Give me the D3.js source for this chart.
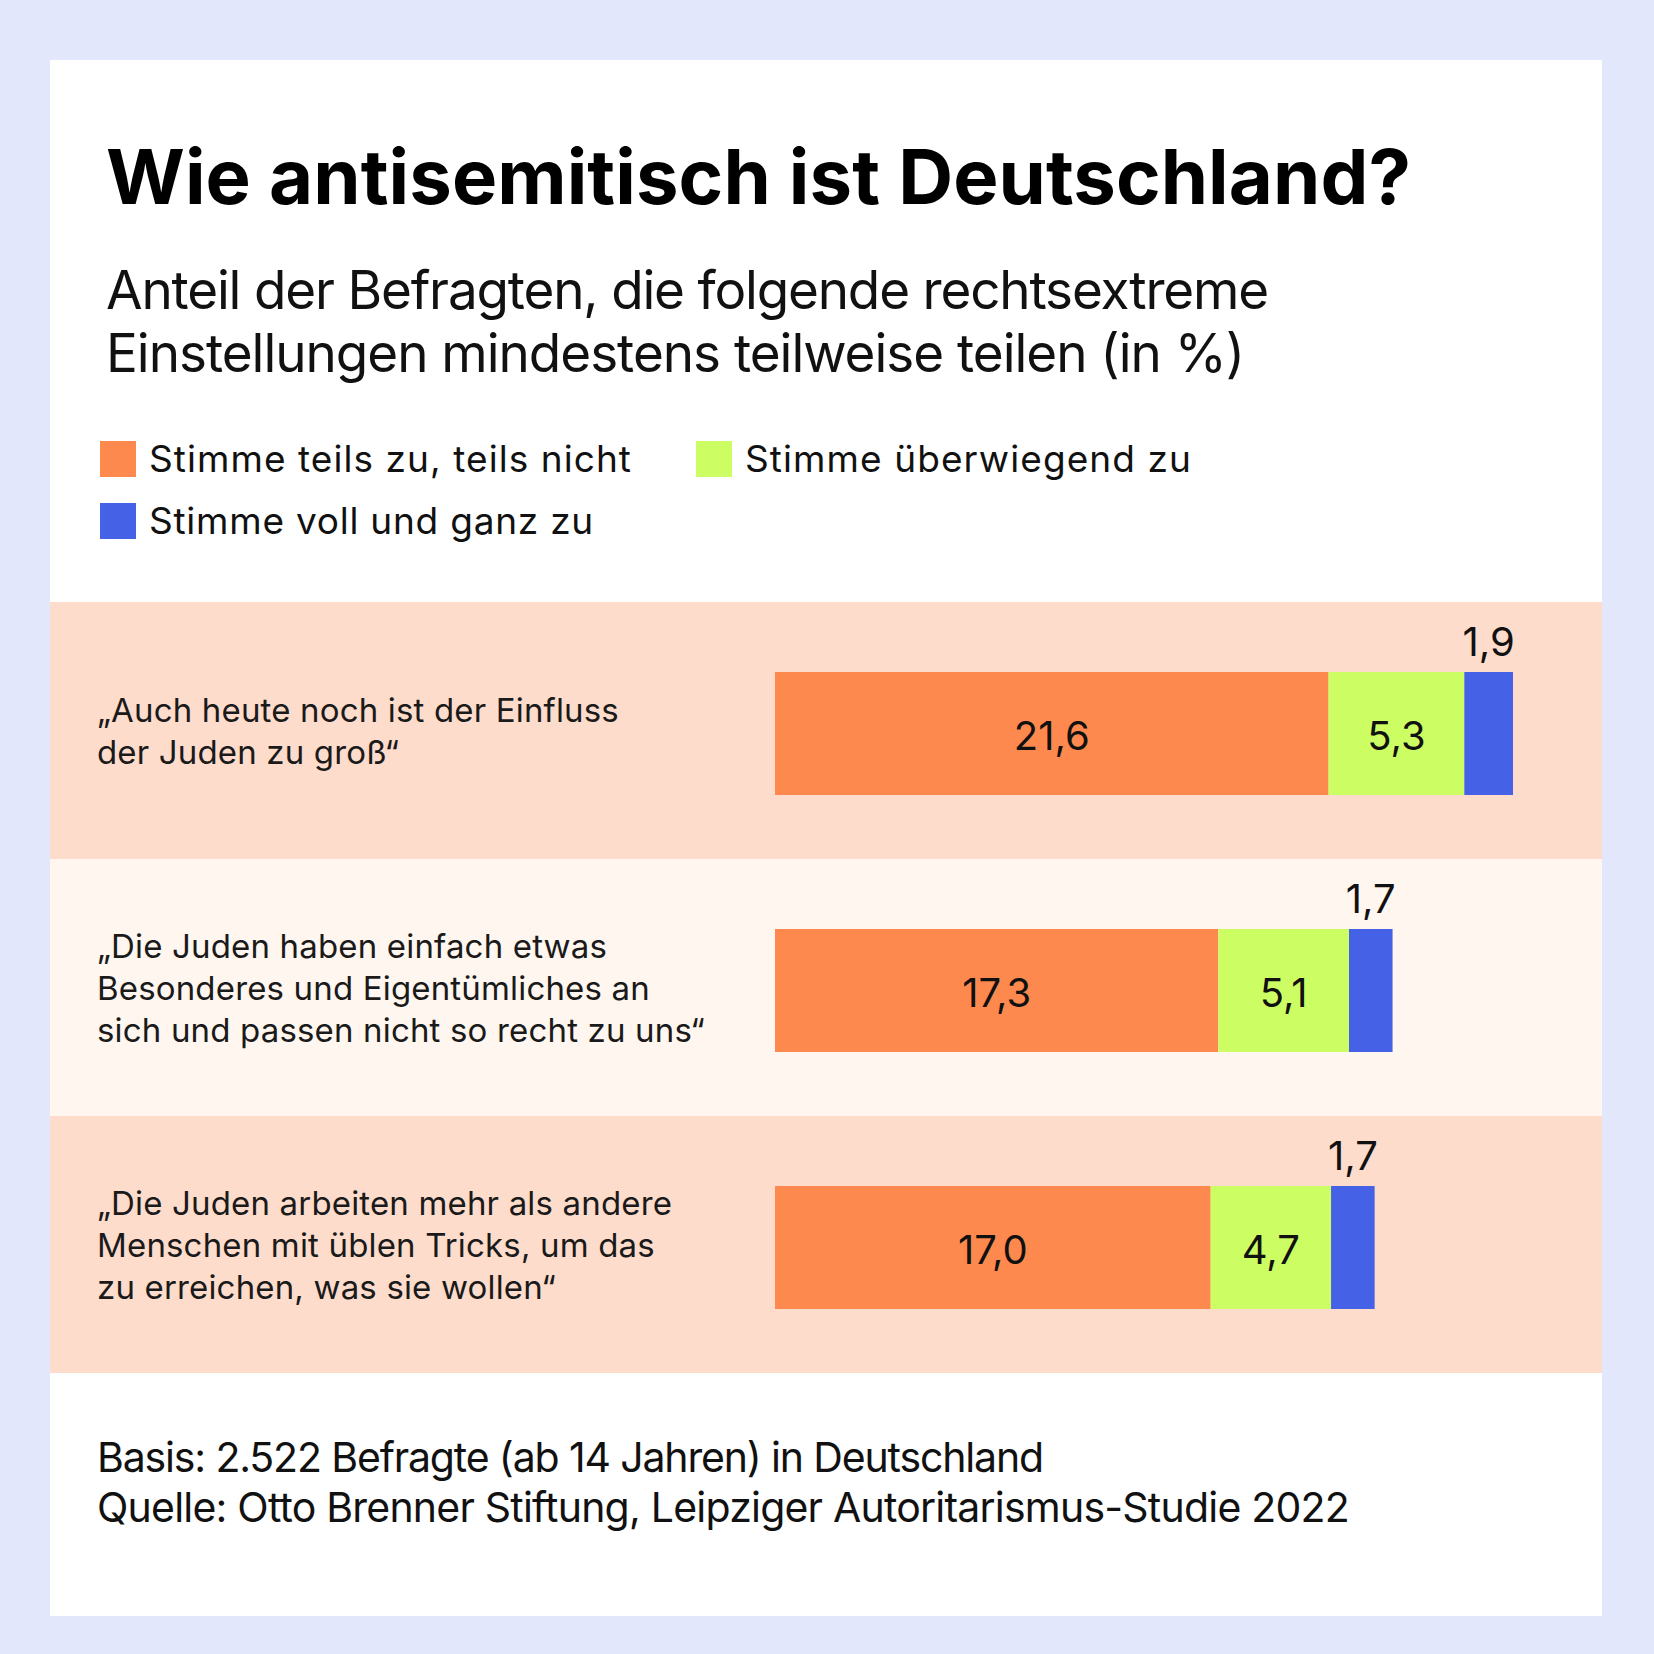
<!DOCTYPE html>
<html>
<head>
<meta charset="utf-8">
<script src="https://cdn.jsdelivr.net/npm/d3@7"></script>
<style>
  body { margin: 0; background: #e3e7fb; }
  svg { display: block; font-family: Inter, "Noto Sans", sans-serif; }
</style>
</head>
<body>
<script>
// data
var seriesNames = ["Stimme teils zu, teils nicht", "Stimme überwiegend zu", "Stimme voll und ganz zu"];
var seriesKeys = ["teils", "ueberwiegend", "voll"];
var teils = [21.6, 17.3, 17.0];
var ueberwiegend = [5.3, 5.1, 4.7];
var voll = [1.9, 1.7, 1.7];
var statements = [
    ["„Auch heute noch ist der Einfluss", "der Juden zu groß“"],
    ["„Die Juden haben einfach etwas", "Besonderes und Eigentümliches an", "sich und passen nicht so recht zu uns“"],
    ["„Die Juden arbeiten mehr als andere", "Menschen mit üblen Tricks, um das", "zu erreichen, was sie wollen“"]
];

var width = 1654, height = 1654;
var colour = d3.scaleOrdinal().domain(seriesKeys).range(["#fe894e", "#ccfe63", "#4562e6"]);
var de = d3.formatLocale({decimal: ",", thousands: ".", grouping: [3], currency: ["", " €"]});
var fmt = de.format(".1f");

// squeeze/stretch letter-spacing so a text hits the measured width
function fit(sel, target) {
    sel.each(function() {
        var t = d3.select(this).style("letter-spacing", "0px");
        var len = this.getComputedTextLength();
        var n = t.text().length;
        t.style("letter-spacing", ((target - len) / n) + "px");
    });
}

var svg = d3.select("body").append("svg").attr("width", width).attr("height", height);

// backdrop and card
svg.append("rect").attr("width", width).attr("height", height).attr("fill", "#e3e7fb");
svg.append("rect").attr("x", 50).attr("y", 60).attr("width", 1552).attr("height", 1556).attr("fill", "#fff");

// title + subtitle
svg.append("text").attr("x", 106).attr("y", 204)
    .attr("font-size", 76).attr("font-weight", 700).attr("fill", "#000")
    .text("Wie antisemitisch ist Deutschland?").call(fit, 1305);

var sub = [["Anteil der Befragten, die folgende rechtsextreme", 309, 1162],
           ["Einstellungen mindestens teilweise teilen (in %)", 372, 1138]];
sub.forEach(function(s) {
    svg.append("text").attr("x", 106).attr("y", s[1])
        .attr("font-size", 53).attr("font-weight", 400).attr("fill", "#111")
        .text(s[0]).call(fit, s[2]);
});

// legend
var legendPos = [{x: 100, y: 441, w: 483}, {x: 696, y: 441, w: 447}, {x: 100, y: 503, w: 445}];
var legend = svg.selectAll(".legend").data(seriesKeys).enter().append("g").attr("class", "legend")
    .attr("transform", function(d, i) { return "translate(" + legendPos[i].x + "," + legendPos[i].y + ")"; });
legend.append("rect").attr("width", 36).attr("height", 36).attr("fill", function(d) { return colour(d); });
legend.append("text").attr("x", 49).attr("y", 31)
    .attr("font-size", 37).attr("fill", "#111")
    .text(function(d, i) { return seriesNames[i]; })
    .each(function(d, i) { d3.select(this).call(fit, legendPos[i].w); });

// rows
var rows = statements.map(function(s, i) {
    return {id: i, lines: s, teils: teils[i], ueberwiegend: ueberwiegend[i], voll: voll[i]};
});
var y = d3.scaleBand().domain(rows.map(function(d) { return d.id; })).range([602, 1373]).padding(0);
var x = d3.scaleLinear()
    .domain([0, d3.max(rows, function(d) { return d.teils + d.ueberwiegend + d.voll; })])
    .range([775, 1513]);
var barH = 123;
function barTop(i) { return y(i) + y.bandwidth() / 2 - barH / 2 + 3; }

svg.selectAll(".band").data(rows).enter().append("rect").attr("class", "band")
    .attr("x", 50).attr("width", 1552)
    .attr("y", function(d) { return y(d.id); })
    .attr("height", y.bandwidth())
    .attr("fill", function(d, i) { return i % 2 ? "#fff6f0" : "#fedccc"; });

// statement labels
var labelG = svg.selectAll(".label").data(rows).enter().append("text").attr("class", "label")
    .attr("font-size", 33).attr("fill", "#1a1a1a");
labelG.selectAll("tspan").data(function(d) {
        return d.lines.map(function(l, j) { return {t: l, j: j, n: d.lines.length, id: d.id}; });
    }).enter().append("tspan")
    .attr("x", 97)
    .attr("y", function(d) { return barTop(d.id) + barH / 2 + (d.j - (d.n - 1) / 2) * 42 + 9; })
    .text(function(d) { return d.t; });

// work out tracking from one measured line, use on all labels
var probe = svg.append("text").attr("font-size", 33).text(statements[1][2]);
var natural = probe.node().getComputedTextLength();
var spacing = (608 - natural) / statements[1][2].length;
probe.remove();
labelG.style("letter-spacing", spacing + "px");

// stacked bars
var stack = d3.stack().keys(seriesKeys)(rows);
var layer = svg.selectAll(".layer").data(stack).enter().append("g").attr("class", "layer")
    .attr("fill", function(d) { return colour(d.key); });
layer.selectAll("rect").data(function(d) { return d; }).enter().append("rect")
    .attr("x", function(d) { return x(d[0]); })
    .attr("width", function(d) { return x(d[1]) - x(d[0]); })
    .attr("y", function(d) { return barTop(d.data.id); })
    .attr("height", barH);

// value labels: inside for the first two, above for the thin blue one
layer.selectAll("text").data(function(d) { return d.map(function(p) { p.key = d.key; return p; }); })
    .enter().append("text")
    .attr("text-anchor", "middle")
    .attr("font-size", 40).attr("fill", "#111")
    .attr("x", function(d) { return (x(d[0]) + x(d[1])) / 2; })
    .attr("y", function(d) {
        return d.key === "voll" ? barTop(d.data.id) - 16 : barTop(d.data.id) + barH / 2 + 16;
    })
    .text(function(d) { return fmt(d[1] - d[0]); });

// footer
var foot = [["Basis: 2.522 Befragte (ab 14 Jahren) in Deutschland", 1472, 946],
            ["Quelle: Otto Brenner Stiftung, Leipziger Autoritarismus-Studie 2022", 1522, 1252]];
foot.forEach(function(f) {
    svg.append("text").attr("x", 97).attr("y", f[1])
        .attr("font-size", 41).attr("fill", "#111")
        .text(f[0]).call(fit, f[2]);
});
</script>
</body>
</html>
